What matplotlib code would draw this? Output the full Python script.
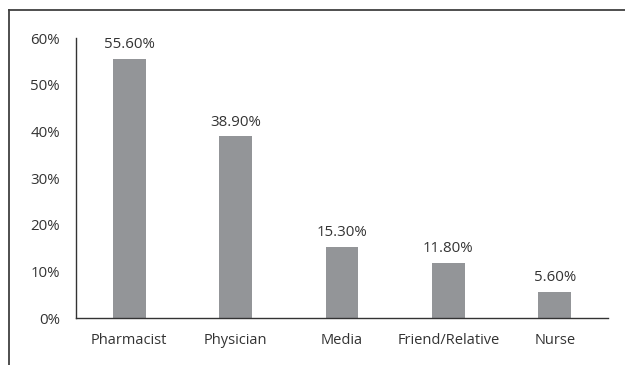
import matplotlib
matplotlib.use("Agg")
import matplotlib.pyplot as plt
from matplotlib.lines import Line2D

categories = ["Pharmacist", "Physician", "Media", "Friend/Relative", "Nurse"]
values = [55.6, 38.9, 15.3, 11.8, 5.6]
yticks = [0, 10, 20, 30, 40, 50, 60]

plt.rcParams['font.family'] = ['Open Sans', 'DejaVu Sans']
txt = '#333333'

fig = plt.figure(figsize=(6.25, 3.65), dpi=100)
ax = fig.add_axes([76/625, 1-318/365, (608-76)/625, (318-38)/365])

x = list(range(len(categories)))
bars = ax.bar(x, values, width=0.31, color='#939598')
for xi, v in zip(x, values):
    ax.annotate(f"{v:.2f}%", (xi, v), xytext=(0, 5), textcoords='offset points',
                ha='center', va='bottom', fontsize=10.8, color=txt)

ax.set_xlim(-0.5, len(categories) - 0.5)
ax.set_ylim(0, 60)
ax.set_yticks(yticks)
ax.set_yticklabels([f"{t}%" for t in yticks], fontsize=10.8, color=txt)
ax.set_xticks(x)
ax.set_xticklabels(categories, fontsize=10.5, color=txt)
ax.tick_params(axis='both', length=0)
ax.tick_params(axis='x', pad=11)
ax.tick_params(axis='y', pad=11.5)
for s in ['top', 'right']:
    ax.spines[s].set_visible(False)
for s in ['left', 'bottom']:
    ax.spines[s].set_color('#333333')
    ax.spines[s].set_linewidth(1.0)

fig.add_artist(Line2D([9/625, 9/625], [0, 1-10/365], transform=fig.transFigure,
                      color='#404040', linewidth=1.3))
fig.add_artist(Line2D([9/625, 1], [1-10/365, 1-10/365], transform=fig.transFigure,
                      color='#404040', linewidth=1.3))

fig.savefig("out.png", dpi=100)
